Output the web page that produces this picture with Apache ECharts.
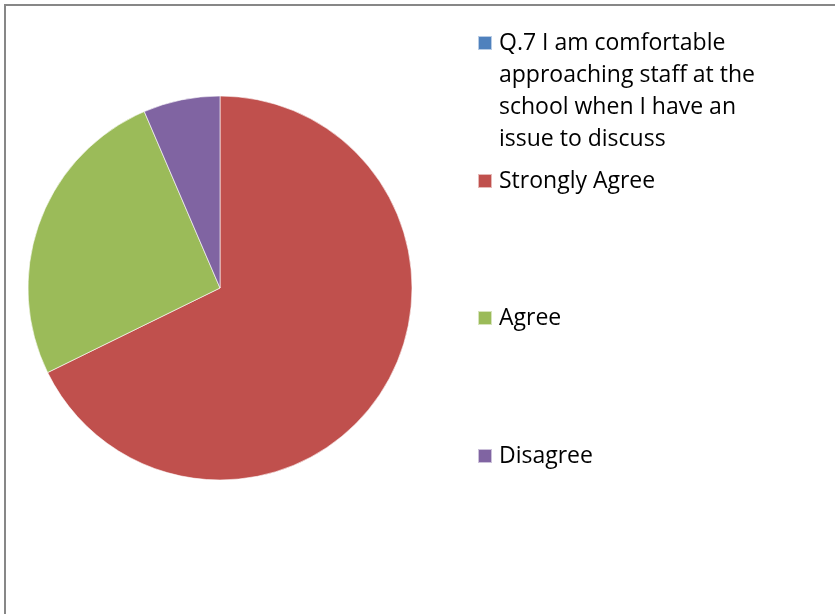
<!DOCTYPE html>
<html>
<head>
<meta charset="utf-8">
<script src="https://cdn.jsdelivr.net/npm/echarts@6/dist/echarts.min.js"></script>
<style>html,body{margin:0;padding:0;background:#fff;}#c{width:835px;height:614px;}</style>
</head>
<body>
<div id="c"></div>
<script>
const categories = ['Q.7 I am comfortable approaching staff at the school when I have an issue to discuss', 'Strongly Agree', 'Agree', 'Disagree'];
const legendLines = [['Q.7 I am comfortable', 'approaching staff at the', 'school when I have an', 'issue to discuss'], ['Strongly Agree'], ['Agree'], ['Disagree']];
const values = [0, 21, 8, 2];
const colors = ['#4F81BD', '#C0504D', '#9BBB59', '#8064A2'];

const FONT = 'Open Sans';
const FS = 23;
const LH = 32;
const legendCenters = [43, 181, 318, 456];

const chart = echarts.init(document.getElementById('c'), null, {renderer: 'canvas'});

const legends = categories.map((name, i) => {
  const n = legendLines[i].length;
  const blanks = n - 1;
  const total = n + blanks;
  const text = new Array(blanks).fill(' ').concat(legendLines[i]).join('\n');
  return {
    orient: 'vertical',
    left: 477,
    top: legendCenters[i] - total * LH / 2,
    padding: 0,
    itemWidth: 14,
    itemHeight: 14,
    itemGap: 0,
    icon: 'rect',
    selectedMode: false,
    data: [name],
    formatter: () => text,
    textStyle: {
      fontFamily: FONT,
      fontSize: FS,
      lineHeight: LH,
      color: '#000',
      padding: [0, 0, 0, 2]
    }
  };
});

chart.setOption({
  animation: false,
  color: colors,
  legend: legends,
  graphic: [{
    type: 'rect',
    shape: {x: 5, y: 5, width: 900, height: 700},
    style: {fill: 'none', stroke: '#878787', lineWidth: 2},
    silent: true
  }],
  series: [{
    type: 'pie',
    center: [220, 288],
    radius: 192,
    startAngle: 90,
    clockwise: true,
    label: {show: false},
    labelLine: {show: false},
    emphasis: {disabled: true},
    itemStyle: {borderColor: 'rgba(255,255,255,0.6)', borderWidth: 1},
    data: categories.map((name, i) => ({name: name, value: values[i]}))
  }]
});
</script>
</body>
</html>
